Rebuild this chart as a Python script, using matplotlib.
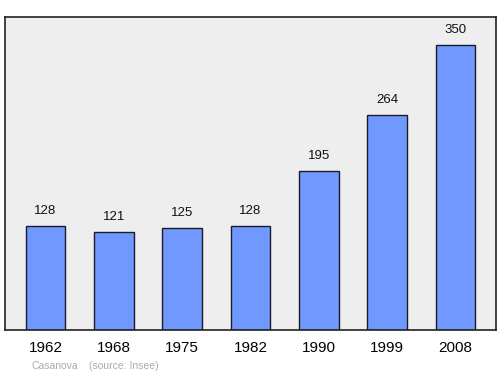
import numpy as np
import matplotlib
matplotlib.use("Agg")
import matplotlib.pyplot as plt

plt.rcParams['font.family'] = ['Liberation Sans', 'DejaVu Sans']

years = ['1962', '1968', '1975', '1982', '1990', '1999', '2008']
population = [128, 121, 125, 128, 195, 264, 350]
town = 'Casanova'
source = '(source: Insee)'

fig = plt.figure(figsize=(5, 3.74), dpi=100)
ax = fig.add_axes([0.01, 0.1176, 0.982, 0.837])
ax.set_facecolor('#eeeeee')

x = np.arange(len(years))
ax.bar(x, population, width=0.58, color='#7099ff', edgecolor='#1a1a2a', linewidth=1.0, zorder=2)

for xi, v in zip(x, population):
    ax.annotate(str(v), (xi, v), xytext=(0, 6.5), textcoords='offset points',
                ha='center', va='bottom', fontsize=9.5, color='#111111')

ax.set_xlim(-0.593, 6.593)
ax.set_ylim(0, 385)
ax.set_yticks([])
ax.set_xticks(x)
ax.set_xticklabels(years, fontsize=11)
ax.tick_params(axis='x', length=0, pad=8)
for s in ax.spines.values():
    s.set_color('#222222')
    s.set_linewidth(1.2)

fig.text(0.062, 0.013, town, fontsize=7.5, color='#aaaaaa')
fig.text(0.178, 0.013, source, fontsize=7.5, color='#aaaaaa')

fig.savefig('out.png', dpi=100)
